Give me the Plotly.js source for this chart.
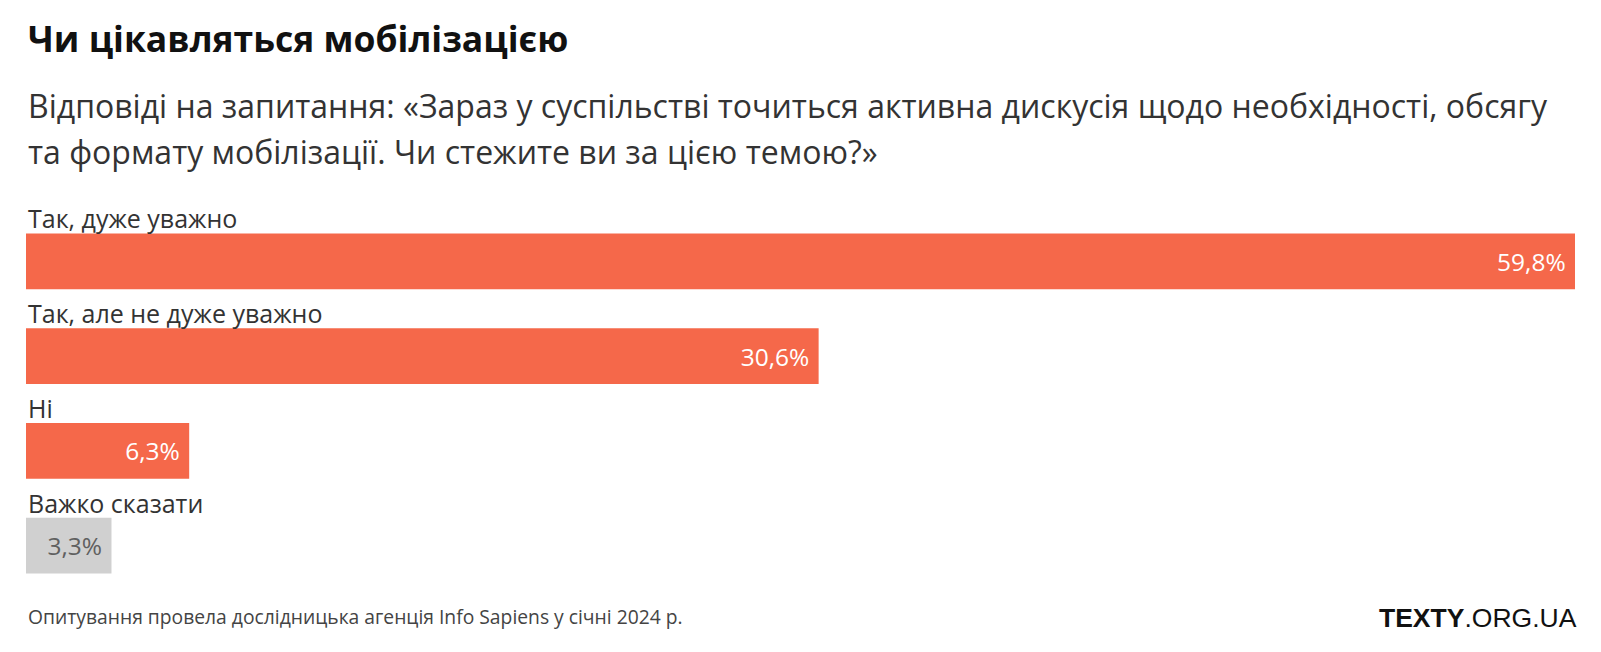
<!DOCTYPE html>
<html>
<head>
<meta charset="utf-8">
<script src="https://cdn.plot.ly/plotly-3.0.1.min.js"></script>
<style>
  html, body { margin: 0; padding: 0; background: #fff; }
  #chart { width: 1601px; height: 652px; }
</style>
</head>
<body>
<div id="chart"></div>
<script>
const categories = [
  "Так, дуже уважно",
  "Так, але не дуже уважно",
  "Ні",
  "Важко сказати",
];
const values = [59.8, 30.6, 6.3, 3.3];
const barColors = ["#f5684a", "#f5684a", "#f5684a", "#d0d0d0"];
const textColors = ["#ffffff", "#ffffff", "#ffffff", "#606060"];

const titleText = "Чи цікавляться мобілізацією";
const subtitleLines = [
  "Відповіді на запитання: «Зараз у суспільстві точиться активна дискусія щодо необхідності, обсягу",
  "та формату мобілізації. Чи стежите ви за цією темою?»",
];
const sourceText = "Опитування провела дослідницька агенція Info Sapiens у січні 2024 р.";

const FONT = "'Open Sans', Roboto, sans-serif";
const W = 1601, H = 652;
const M = { l: 26, r: 26, t: 214, b: 59 };
const plotH = H - M.t - M.b;
// pixel row -> paper coordinate
const py = (y) => (H - M.b - y) / plotH;

const labels = values.map((v) => v.toFixed(1).replace(".", ",") + "%\u00a0");

const data = [
  {
    type: "bar",
    orientation: "h",
    x: values,
    y: categories,
    marker: { color: barColors },
    text: labels,
    textposition: "inside",
    insidetextanchor: "end",
    constraintext: "none",
    textfont: { family: FONT, size: 24.5, color: textColors },
    hoverinfo: "skip",
  },
];

const annotations = [];

// category labels above each bar
categories.forEach((c) => {
  annotations.push({
    text: c,
    x: 0,
    y: c,
    xref: "x",
    yref: "y",
    xanchor: "left",
    yanchor: "middle",
    yshift: 43,
    showarrow: false,
    font: { family: FONT, size: 25, color: "#333" },
  });
});

// subtitle, one annotation per line
subtitleLines.forEach((line, i) => {
  annotations.push({
    text: line,
    xref: "paper",
    yref: "paper",
    x: 0,
    y: py(105 + i * 46),
    xanchor: "left",
    yanchor: "middle",
    showarrow: false,
    font: { family: FONT, size: 32, color: "#333" },
  });
});

// source line
annotations.push({
  text: sourceText,
  xref: "paper",
  yref: "paper",
  x: 0,
  y: py(616),
  xanchor: "left",
  yanchor: "middle",
  showarrow: false,
  font: { family: FONT, size: 19.3, color: "#444" },
});

// logo
annotations.push({
  text: "<b>TEXTY</b>.ORG.UA",
  xref: "paper",
  yref: "paper",
  x: 1,
  xshift: 4,
  y: py(618),
  xanchor: "right",
  yanchor: "middle",
  showarrow: false,
  font: { family: "'Liberation Sans', Arial, sans-serif", size: 26.5, color: "#111" },
});

const layout = {
  width: W,
  height: H,
  margin: M,
  title: {
    text: titleText,
    xref: "container",
    yref: "container",
    x: 28 / W,
    xanchor: "left",
    y: 1 - 40 / H,
    yanchor: "middle",
    font: { family: FONT, size: 35.5, color: "#111", weight: 700 },
  },
  showlegend: false,
  bargap: 0.41,
  xaxis: {
    range: [0, 59.8],
    visible: false,
    fixedrange: true,
  },
  yaxis: {
    // fixed so the label annotations don't stretch the range
    range: [categories.length - 0.5, -0.5],
    showticklabels: false,
    showgrid: false,
    zeroline: false,
    fixedrange: true,
  },
  annotations,
  paper_bgcolor: "#fff",
  plot_bgcolor: "#fff",
};

const config = {
  responsive: false,
  displayModeBar: false,
  staticPlot: true,
};

Plotly.newPlot("chart", data, layout, config);
</script>
</body>
</html>
